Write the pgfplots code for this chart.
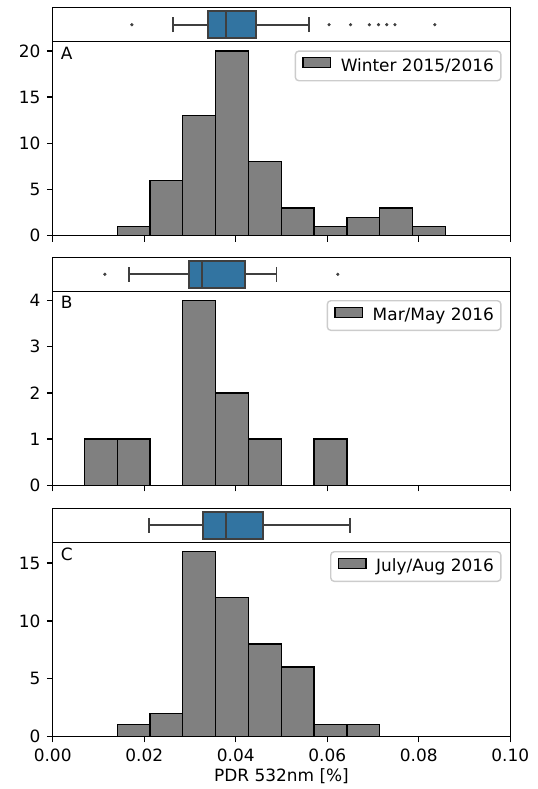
\documentclass[border=0pt]{standalone}
\usepackage{fontspec}
\setmainfont{DejaVu Sans}
\usepackage{pgfplots}
\pgfplotsset{compat=1.18}
\usepgfplotslibrary{statistics}
\definecolor{boxblue}{HTML}{3274A1}
\definecolor{boxedge}{HTML}{3F3F3F}
\definecolor{bargray}{HTML}{808080}
\definecolor{legendframe}{HTML}{CCCCCC}
\newcommand{\mplfont}{\fontsize{12.2bp}{14.6bp}\selectfont}
\pgfplotsset{
  hist/.style={
    scale only axis, width=329.47bp, height=139.68bp,
    anchor=south west,
    xmin=0, xmax=0.1, ymin=0,
    xtick={0,0.02,0.04,0.06,0.08,0.1},
    xticklabels={},
    tick align=outside, tick pos=left,
    major tick length=4.28bp,
    tick style={black, line width=0.98bp},
    axis line style={black, line width=0.98bp},
    tick label style={font=\mplfont, inner sep=0pt},
    xticklabel shift=4.3bp, yticklabel shift=4.3bp,
    /pgf/number format/assume math mode=true,
    legend style={at={(0.981,0.955)}, anchor=north east, draw=legendframe,
      line width=1bp, rounded corners=2.5bp, fill=white, font=\mplfont,
      inner xsep=5bp, inner ysep=4.4bp,
      nodes={inner sep=0pt, text height=0.75em, text depth=0.25em}},
  },
  strip/.style={
    scale only axis, width=329.47bp, height=24.48bp,
    anchor=south west,
    xmin=0, xmax=0.1, ymin=-0.5, ymax=0.5,
    xtick=\empty, ytick=\empty,
    axis line style={black, line width=0.98bp},
  },
  histbar/.style={ybar interval, fill=bargray, draw=black, line width=0.9bp,
    legend image code/.code={\draw[##1, sharp corners] (0em,0.01em) rectangle (2em,0.71em); \path (2.69em,0.3em);}},
  boxst/.style={draw=boxedge, fill=boxblue, line width=1.35bp},
  outl/.style={only marks, mark=*, mark size=0.95bp, color=boxedge},
}
\begin{document}
\begin{tikzpicture}
\useasboundingbox (0,0) rectangle (387.36bp,-568.08bp);

% ---------- Panel A ----------
\begin{axis}[strip, at={(37.94bp,-30.02bp)}]
\addplot[boxst, boxplot prepared={draw direction=x, draw position=0, box extend=0.8, whisker extend=0.44,
  lower whisker=0.0262, lower quartile=0.0339, median=0.0378, upper quartile=0.0444, upper whisker=0.0561}] coordinates {};
\addplot[outl] coordinates {(0.0173,0) (0.0604,0) (0.0651,0) (0.0692,0) (0.0712,0) (0.0730,0) (0.0748,0) (0.0835,0)};
\end{axis}
\begin{axis}[hist, at={(37.94bp,-169.70bp)}, ymax=21, ytick={0,5,10,15,20}, yticklabels={0,5,10,15,20}]
\addplot[histbar] coordinates {(0.0141,1) (0.02127,6) (0.02844,13) (0.03561,20) (0.04278,8) (0.04995,3) (0.05712,1) (0.06429,2) (0.07146,3) (0.07863,1) (0.0858,1)};
\addlegendentry{Winter 2015/2016}
\node[anchor=north west, inner sep=0pt, font=\mplfont, xshift=5.76bp, yshift=-3.6bp] at (rel axis cs:0,1) {A};
\end{axis}

% ---------- Panel B ----------
\begin{axis}[strip, at={(37.94bp,-209.74bp)}]
\addplot[boxst, boxplot prepared={draw direction=x, draw position=0, box extend=0.8, whisker extend=0.44,
  lower whisker=0.0166, lower quartile=0.0298, median=0.0326, upper quartile=0.0420, upper whisker=0.0489}] coordinates {};
\addplot[outl] coordinates {(0.0114,0) (0.0623,0)};
\end{axis}
\begin{axis}[hist, at={(37.94bp,-349.42bp)}, ymax=4.2, ytick={0,1,2,3,4}, yticklabels={0,1,2,3,4}]
\addplot[histbar] coordinates {(0.00693,1) (0.0141,1) (0.02127,0) (0.02844,4) (0.03561,2) (0.04278,1) (0.04995,0) (0.05712,1) (0.06429,1)};
\addlegendentry{Mar/May 2016}
\node[anchor=north west, inner sep=0pt, font=\mplfont, xshift=5.76bp, yshift=-3.6bp] at (rel axis cs:0,1) {B};
\end{axis}

% ---------- Panel C ----------
\begin{axis}[strip, at={(37.94bp,-390.46bp)}]
\addplot[boxst, boxplot prepared={draw direction=x, draw position=0, box extend=0.8, whisker extend=0.44,
  lower whisker=0.0210, lower quartile=0.0329, median=0.0378, upper quartile=0.0459, upper whisker=0.0650}] coordinates {};
\end{axis}
\begin{axis}[hist, at={(37.94bp,-530.14bp)}, ymax=16.8, ytick={0,5,10,15}, yticklabels={0,5,10,15},
  xticklabels={0.00,0.02,0.04,0.06,0.08,0.10},
  xlabel={PDR 532nm [\%]}, xlabel style={font=\mplfont, inner sep=0pt, yshift=-5bp}]
\addplot[histbar] coordinates {(0.0141,1) (0.02127,2) (0.02844,16) (0.03561,12) (0.04278,8) (0.04995,6) (0.05712,1) (0.06429,1) (0.07146,1)};
\addlegendentry{July/Aug 2016}
\node[anchor=north west, inner sep=0pt, font=\mplfont, xshift=5.76bp, yshift=-3.6bp] at (rel axis cs:0,1) {C};
\end{axis}
\end{tikzpicture}
\end{document}
